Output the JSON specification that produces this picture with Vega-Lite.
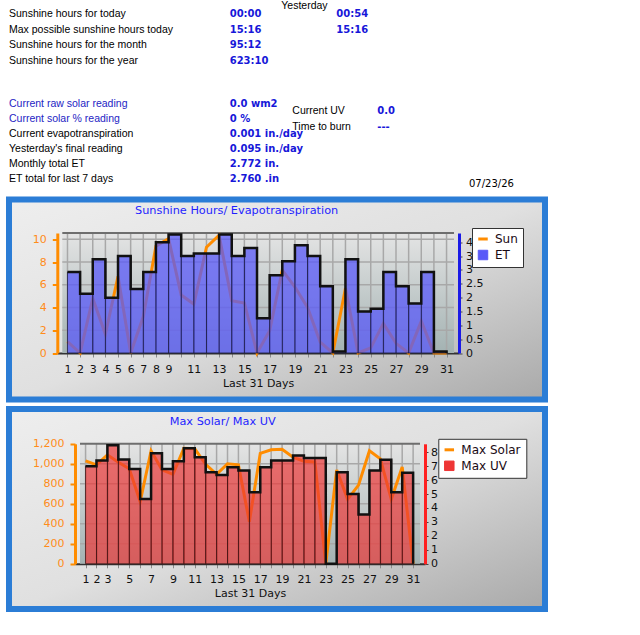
{
  "$schema": "https://vega.github.io/schema/vega-lite/v6.json",
  "background": "white",
  "padding": {"left": 6, "top": 0, "right": 0, "bottom": 0},
  "spacing": 3.5,
  "resolve": {"scale": {"color": "independent"}, "legend": {"color": "independent"}},
  "config": {
    "view": {"stroke": null},
    "axis": {"grid": false, "tickCount": 100, "labelFont": "DejaVu Sans", "labelFontSize": 11, "titleFont": "DejaVu Sans", "titleFontSize": 11, "titleFontWeight": "normal"},
    "legend": {"labelFont": "DejaVu Sans", "labelFontSize": 12, "labelColor": "#1a0a14"}
  },
  "datasets": {
    "info": [
      {"line": -1, "col": 2, "kind": "label", "text": "Yesterday"},
      {"line": 0, "col": 0, "kind": "label", "text": "Sunshine hours for today"},
      {"line": 0, "col": 1, "kind": "value", "text": "00:00"},
      {"line": 0, "col": 4, "kind": "value", "text": "00:54"},
      {"line": 1, "col": 0, "kind": "label", "text": "Max possible sunshine hours today"},
      {"line": 1, "col": 1, "kind": "value", "text": "15:16"},
      {"line": 1, "col": 4, "kind": "value", "text": "15:16"},
      {"line": 2, "col": 0, "kind": "label", "text": "Sunshine hours for the month"},
      {"line": 2, "col": 1, "kind": "value", "text": "95:12"},
      {"line": 3, "col": 0, "kind": "label", "text": "Sunshine hours for the year"},
      {"line": 3, "col": 1, "kind": "value", "text": "623:10"},
      {"line": 5, "col": 0, "kind": "link", "text": "Current raw solar reading"},
      {"line": 5, "col": 1, "kind": "value", "text": "0.0 wm2"},
      {"line": 6, "col": 0, "kind": "link", "text": "Current solar % reading"},
      {"line": 6, "col": 1, "kind": "value", "text": "\u00a00 %"},
      {"line": 7, "col": 0, "kind": "label", "text": "Current evapotranspiration"},
      {"line": 7, "col": 1, "kind": "value", "text": "0.001 in./day"},
      {"line": 8, "col": 0, "kind": "label", "text": "Yesterday's final reading"},
      {"line": 8, "col": 1, "kind": "value", "text": "0.095 in./day"},
      {"line": 9, "col": 0, "kind": "label", "text": "Monthly total ET"},
      {"line": 9, "col": 1, "kind": "value", "text": "2.772 in."},
      {"line": 10, "col": 0, "kind": "label", "text": "ET total for last 7 days"},
      {"line": 10, "col": 1, "kind": "value", "text": "2.760 .in"},
      {"line": 5.45, "col": 3, "kind": "label", "text": "Current UV"},
      {"line": 5.45, "col": 5, "kind": "value", "text": "0.0"},
      {"line": 6.5, "col": 3, "kind": "label", "text": "Time to burn"},
      {"line": 6.5, "col": 5, "kind": "value", "text": "---"},
      {"line": 10.33, "col": 6, "kind": "date", "text": "07/23/26"}
    ],
    "days": [
      {"day": 1, "sun": 1.0, "et": 2.92, "solar": 1030, "uv": 7.0},
      {"day": 2, "sun": 0, "et": 2.14, "solar": 990, "uv": 7.4},
      {"day": 3, "sun": 4.8, "et": 3.38, "solar": 1090, "uv": 8.5},
      {"day": 4, "sun": 1.65, "et": 1.99, "solar": 1015, "uv": 7.47},
      {"day": 5, "sun": 6.75, "et": 3.5, "solar": 950, "uv": 6.8},
      {"day": 6, "sun": 0, "et": 2.31, "solar": 620, "uv": 4.65},
      {"day": 7, "sun": 3.2, "et": 2.92, "solar": 1130, "uv": 7.92},
      {"day": 8, "sun": 9.4, "et": 4.0, "solar": 940, "uv": 6.8},
      {"day": 9, "sun": 10.05, "et": 4.28, "solar": 895, "uv": 7.35},
      {"day": 10, "sun": 5.1, "et": 3.5, "solar": 1155, "uv": 8.28},
      {"day": 11, "sun": 4.3, "et": 3.59, "solar": 1150, "uv": 7.64},
      {"day": 12, "sun": 9.3, "et": 3.59, "solar": 995, "uv": 6.56},
      {"day": 13, "sun": 10.35, "et": 4.28, "solar": 895, "uv": 6.37},
      {"day": 14, "sun": 4.6, "et": 3.5, "solar": 1000, "uv": 6.92},
      {"day": 15, "sun": 4.4, "et": 3.79, "solar": 990, "uv": 6.68},
      {"day": 16, "sun": 0, "et": 1.25, "solar": 420, "uv": 5.13},
      {"day": 17, "sun": 1.95, "et": 2.81, "solar": 1105, "uv": 6.92},
      {"day": 18, "sun": 7.3, "et": 3.31, "solar": 1140, "uv": 7.4},
      {"day": 19, "sun": 5.8, "et": 3.89, "solar": 1145, "uv": 7.4},
      {"day": 20, "sun": 4.0, "et": 3.5, "solar": 1066, "uv": 7.76},
      {"day": 21, "sun": 0.95, "et": 2.41, "solar": 1025, "uv": 7.59},
      {"day": 22, "sun": 0, "et": 0.05, "solar": 1018, "uv": 7.59},
      {"day": 23, "sun": 5.7, "et": 3.38, "solar": 0, "uv": 0},
      {"day": 24, "sun": 0, "et": 1.5, "solar": 938, "uv": 6.56},
      {"day": 25, "sun": 0.45, "et": 1.6, "solar": 645, "uv": 5.01},
      {"day": 26, "sun": 2.6, "et": 2.92, "solar": 787, "uv": 3.53},
      {"day": 27, "sun": 0.85, "et": 2.41, "solar": 1130, "uv": 6.68},
      {"day": 28, "sun": 0, "et": 1.79, "solar": 1050, "uv": 7.45},
      {"day": 29, "sun": 2.8, "et": 2.92, "solar": 645, "uv": 5.13},
      {"day": 30, "sun": 0, "et": 0.05, "solar": 968, "uv": 6.52},
      {"day": 31, "sun": 0, "et": 0, "solar": 0, "uv": 0}
    ],
    "sunGrid": [{"level": 2}, {"level": 4}, {"level": 6}, {"level": 8}, {"level": 10}],
    "solarGrid": [{"level": 200}, {"level": 400}, {"level": 600}, {"level": 800}, {"level": 1000}]
  },
  "vconcat": [
    {
      "width": 540,
      "height": 192.5,
      "data": {"name": "info"},
      "encoding": {
        "x": {"field": "col", "type": "quantitative", "axis": null,
              "scale": {"domain": [0, 1, 2, 3, 4, 5, 6], "range": [0, 220.7, 272.3, 283.3, 327.3, 368.3, 460]}},
        "y": {"field": "line", "type": "quantitative", "axis": null,
              "scale": {"domain": [-1, 0, 3, 5, 10], "range": [6, 14, 61, 104, 179]}},
        "text": {"field": "text"}
      },
      "layer": [
        {"transform": [{"filter": "datum.kind === 'label'"}],
         "mark": {"type": "text", "align": "left", "baseline": "middle", "font": "Liberation Sans", "fontSize": 10.5, "color": "#000000"}},
        {"transform": [{"filter": "datum.kind === 'link'"}],
         "mark": {"type": "text", "align": "left", "baseline": "middle", "font": "Liberation Sans", "fontSize": 10.5, "color": "#2424c4"}},
        {"transform": [{"filter": "datum.kind === 'value'"}],
         "mark": {"type": "text", "align": "left", "baseline": "middle", "font": "DejaVu Sans", "fontWeight": "bold", "fontSize": 10, "color": "#1717d9"}},
        {"transform": [{"filter": "datum.kind === 'date'"}],
         "mark": {"type": "text", "align": "left", "baseline": "middle", "font": "DejaVu Sans", "fontSize": 10, "color": "#000000"}}
      ]
    },
    {
      "width": 536,
      "height": 200,
      "view": {
        "fill": {"gradient": "linear", "x1": 0, "y1": 0, "x2": 1, "y2": 1,
                 "stops": [{"offset": 0, "color": "#eeeeee"}, {"offset": 0.5, "color": "#e0e0e0"}, {"offset": 1, "color": "#a9a9a9"}]},
        "stroke": "#2b7dd6", "strokeWidth": 6
      },
      "title": {"text": "Sunshine Hours/ Evapotranspiration", "anchor": "start", "frame": "group", "offset": 0,
                "dx": 126, "dy": 22.5, "baseline": "middle", "color": "#1f1fff", "font": "DejaVu Sans", "fontSize": 11.3, "fontWeight": "normal"},
      "data": {"name": "days"},
      "layer": [
        {
          "layer": [
            {
              "transform": [{"aggregate": [{"op": "count", "as": "n"}]}],
              "mark": {"type": "rect", "fill": {"gradient": "linear", "x1": 0, "y1": 0, "x2": 0, "y2": 1,
                       "stops": [{"offset": 0, "color": "#e4e4e4"}, {"offset": 1, "color": "#a3b2b2"}]}},
              "encoding": {
                "x": {"datum": 0.59, "type": "quantitative", "scale": {"domain": [0.59, 31.59], "range": [48.3, 450], "nice": false, "zero": false}},
                "x2": {"datum": 31.59},
                "y": {"datum": 0, "type": "quantitative", "scale": {"domain": [0, 10.55], "range": [153.5, 33.5], "nice": false}},
                "y2": {"datum": 10.55}
              }
            },
            {
              "mark": {"type": "rule", "color": "#a8a8a8", "strokeWidth": 1.5},
              "encoding": {
                "x": {"field": "day", "type": "quantitative"},
                "y": {"datum": 0},
                "y2": {"datum": 10.55}
              }
            },
            {
              "data": {"name": "sunGrid"},
              "mark": {"type": "rule", "color": "#a8a8a8", "strokeWidth": 1.5},
              "encoding": {
                "y": {"field": "level", "type": "quantitative"},
                "x": {"datum": 0.59},
                "x2": {"datum": 31.59}
              }
            },
            {
              "transform": [{"aggregate": [{"op": "count", "as": "n"}]}],
              "mark": {"type": "rule", "color": "#6e6e6e", "strokeWidth": 2},
              "encoding": {
                "y": {"datum": 10.55},
                "x": {"datum": 0.59},
                "x2": {"datum": 31.59}
              }
            },
            {
              "mark": {"type": "line", "strokeWidth": 3},
              "encoding": {
                "x": {"field": "day", "type": "quantitative",
                      "axis": {"orient": "bottom", "offset": -46.5, "title": "Last 31 Days", "titleColor": "#111111", "titlePadding": 3,
                               "values": [1,2,3,4,5,6,7,8,9,10,11,12,13,14,15,16,17,18,19,20,21,22,23,24,25,26,27,28,29,30,31],
                               "tickCount": 100, "format": "d",
                               "labelExpr": "datum.value <= 9 || datum.value % 2 === 1 ? datum.label : ''",
                               "labelOverlap": false, "labelFlush": false, "labelColor": "#111111", "labelPadding": 6,
                               "domainColor": "#333333", "domainWidth": 2, "tickColor": "#8a8a8a", "tickSize": 4, "grid": false}},
                "y": {"field": "sun", "type": "quantitative",
                      "axis": {"orient": "left", "offset": -48.3, "title": null, "values": [0, 2, 4, 6, 8, 10], "tickCount": 100, "format": "d",
                               "labelOverlap": false, "labelColor": "#ff8c1a", "labelPadding": 6, "domainColor": "#ff8c00", "domainWidth": 3,
                               "tickColor": "#ff8c00", "tickSize": 5, "tickWidth": 2, "grid": false}},
                "color": {"datum": "Sun", "scale": {"domain": ["Sun", "ET"], "range": ["#ff8c00", "#5a5af8"]},
                          "legend": {"orient": "none", "legendX": 463, "legendY": 28.5, "title": null,
                                     "fillColor": "#ffffff", "strokeColor": "#333333", "padding": 5, "rowPadding": 3,
                                     "symbolSize": 90, "labelOffset": 6,
                                     "encode": {"symbols": {"update": {
                                       "shape": {"signal": "datum.value === 'Sun' ? 'stroke' : 'square'"},
                                       "fill": {"signal": "datum.value === 'Sun' ? 'transparent' : '#7373f3'"},
                                       "stroke": {"signal": "datum.value === 'Sun' ? '#ff8c00' : '#5a5a5a'"},
                                       "strokeWidth": {"signal": "datum.value === 'Sun' ? 3 : 1"},
                                       "opacity": {"value": 1}, "fillOpacity": {"value": 1}, "strokeOpacity": {"value": 1}}}}}}
              }
            }
          ]
        },
        {
          "layer": [
            {
              "transform": [{"filter": "datum.day <= 30"}],
              "mark": {"type": "bar", "orient": "vertical", "width": 12.96, "xOffset": 6.48, "fillOpacity": 0.75,
                       "stroke": "#1c1c40", "strokeWidth": 1, "strokeOpacity": 0.8},
              "encoding": {
                "x": {"field": "day", "type": "quantitative"},
                "y": {"field": "et", "type": "quantitative", "stack": null,
                      "scale": {"domain": [0, 4.33], "range": [153.5, 33.5], "nice": false},
                      "axis": {"orient": "right", "offset": -86, "title": null, "values": [0, 0.5, 1, 1.5, 2, 2.5, 3, 3.5, 4], "tickCount": 100, "format": ".2~f",
                               "labelOverlap": false, "labelColor": "#111111", "labelPadding": 3.5, "domainColor": "#1a1ae6", "domainWidth": 3,
                               "tickColor": "#444444", "tickSize": 3, "grid": false}},
                "color": {"datum": "ET"}
              }
            },
            {
              "mark": {"type": "line", "interpolate": "step-after", "color": "#111111", "strokeWidth": 2.5},
              "encoding": {
                "x": {"field": "day", "type": "quantitative"},
                "y": {"field": "et", "type": "quantitative"}
              }
            }
          ]
        }
      ],
      "resolve": {"scale": {"y": "independent"}}
    },
    {
      "width": 536,
      "height": 200,
      "view": {
        "fill": {"gradient": "linear", "x1": 0, "y1": 0, "x2": 1, "y2": 1,
                 "stops": [{"offset": 0, "color": "#eeeeee"}, {"offset": 0.5, "color": "#e0e0e0"}, {"offset": 1, "color": "#a9a9a9"}]},
        "stroke": "#2b7dd6", "strokeWidth": 6
      },
      "title": {"text": "Max Solar/ Max UV", "anchor": "start", "frame": "group", "offset": 0,
                "dx": 160.7, "dy": 23.8, "baseline": "middle", "color": "#1f1fff", "font": "DejaVu Sans", "fontSize": 11.3, "fontWeight": "normal"},
      "data": {"name": "days"},
      "layer": [
        {
          "layer": [
            {
              "transform": [{"aggregate": [{"op": "count", "as": "n"}]}],
              "mark": {"type": "rect", "fill": {"gradient": "linear", "x1": 0, "y1": 0, "x2": 0, "y2": 1,
                       "stops": [{"offset": 0, "color": "#e4e4e4"}, {"offset": 1, "color": "#a3b2b2"}]}},
              "encoding": {
                "x": {"datum": 0.49, "type": "quantitative", "scale": {"domain": [0.49, 31.63], "range": [66, 416], "nice": false, "zero": false}},
                "x2": {"datum": 31.63},
                "y": {"datum": 0, "type": "quantitative", "scale": {"domain": [0, 1200], "range": [154.8, 34.8], "nice": false}},
                "y2": {"datum": 1200}
              }
            },
            {
              "mark": {"type": "rule", "color": "#a8a8a8", "strokeWidth": 1.5},
              "encoding": {
                "x": {"field": "day", "type": "quantitative"},
                "y": {"datum": 0},
                "y2": {"datum": 1200}
              }
            },
            {
              "data": {"name": "solarGrid"},
              "mark": {"type": "rule", "color": "#a8a8a8", "strokeWidth": 1.5},
              "encoding": {
                "y": {"field": "level", "type": "quantitative"},
                "x": {"datum": 0.49},
                "x2": {"datum": 31.63}
              }
            },
            {
              "transform": [{"aggregate": [{"op": "count", "as": "n"}]}],
              "mark": {"type": "rule", "color": "#6e6e6e", "strokeWidth": 2},
              "encoding": {
                "y": {"datum": 1200},
                "x": {"datum": 0.49},
                "x2": {"datum": 31.63}
              }
            },
            {
              "mark": {"type": "line", "strokeWidth": 3},
              "encoding": {
                "x": {"field": "day", "type": "quantitative",
                      "axis": {"orient": "bottom", "offset": -45.2, "title": "Last 31 Days", "titleColor": "#111111", "titlePadding": 3,
                               "values": [1,2,3,4,5,6,7,8,9,10,11,12,13,14,15,16,17,18,19,20,21,22,23,24,25,26,27,28,29,30,31],
                               "tickCount": 100, "format": "d",
                               "labelExpr": "datum.value <= 3 || datum.value % 2 === 1 ? datum.label : ''",
                               "labelOverlap": false, "labelFlush": false, "labelColor": "#111111", "labelPadding": 6,
                               "domainColor": "#333333", "domainWidth": 2, "tickColor": "#8a8a8a", "tickSize": 4, "grid": false}},
                "y": {"field": "solar", "type": "quantitative",
                      "axis": {"orient": "left", "offset": -66, "title": null, "values": [0, 200, 400, 600, 800, 1000, 1200], "tickCount": 100, "format": ",d",
                               "labelOverlap": false, "labelColor": "#ff8c1a", "labelPadding": 6, "domainColor": "#ff8c00", "domainWidth": 3,
                               "tickColor": "#ff8c00", "tickSize": 5, "tickWidth": 2, "grid": false}},
                "color": {"datum": "Max Solar", "scale": {"domain": ["Max Solar", "Max UV"], "range": ["#ff8c00", "#ee3535"]},
                          "legend": {"orient": "none", "legendX": 429.3, "legendY": 29.8, "title": null,
                                     "fillColor": "#ffffff", "strokeColor": "#333333", "padding": 5, "rowPadding": 3,
                                     "symbolSize": 90, "labelOffset": 6,
                                     "encode": {"symbols": {"update": {
                                       "shape": {"signal": "datum.value === 'Max Solar' ? 'stroke' : 'square'"},
                                       "fill": {"signal": "datum.value === 'Max Solar' ? 'transparent' : '#e86a6a'"},
                                       "stroke": {"signal": "datum.value === 'Max Solar' ? '#ff8c00' : '#6a2a2a'"},
                                       "strokeWidth": {"signal": "datum.value === 'Max Solar' ? 3 : 1"},
                                       "opacity": {"value": 1}, "fillOpacity": {"value": 1}, "strokeOpacity": {"value": 1}}}}}}
              }
            }
          ]
        },
        {
          "layer": [
            {
              "transform": [{"filter": "datum.day <= 30"}],
              "mark": {"type": "bar", "orient": "vertical", "width": 11.24, "xOffset": 5.62, "fillOpacity": 0.68,
                       "stroke": "#3a1010", "strokeWidth": 1, "strokeOpacity": 0.8},
              "encoding": {
                "x": {"field": "day", "type": "quantitative"},
                "y": {"field": "uv", "type": "quantitative", "stack": null,
                      "scale": {"domain": [0, 8.6], "range": [154.8, 34.8], "nice": false},
                      "axis": {"orient": "right", "offset": -120, "title": null, "values": [0, 1, 2, 3, 4, 5, 6, 7, 8], "tickCount": 100, "format": "d",
                               "labelOverlap": false, "labelColor": "#111111", "labelPadding": 2.5, "domainColor": "#ff2020", "domainWidth": 3,
                               "tickColor": "#444444", "tickSize": 3, "grid": false}},
                "color": {"datum": "Max UV"}
              }
            },
            {
              "mark": {"type": "line", "interpolate": "step-after", "color": "#111111", "strokeWidth": 2.5},
              "encoding": {
                "x": {"field": "day", "type": "quantitative"},
                "y": {"field": "uv", "type": "quantitative"}
              }
            }
          ]
        }
      ],
      "resolve": {"scale": {"y": "independent"}}
    }
  ]
}
